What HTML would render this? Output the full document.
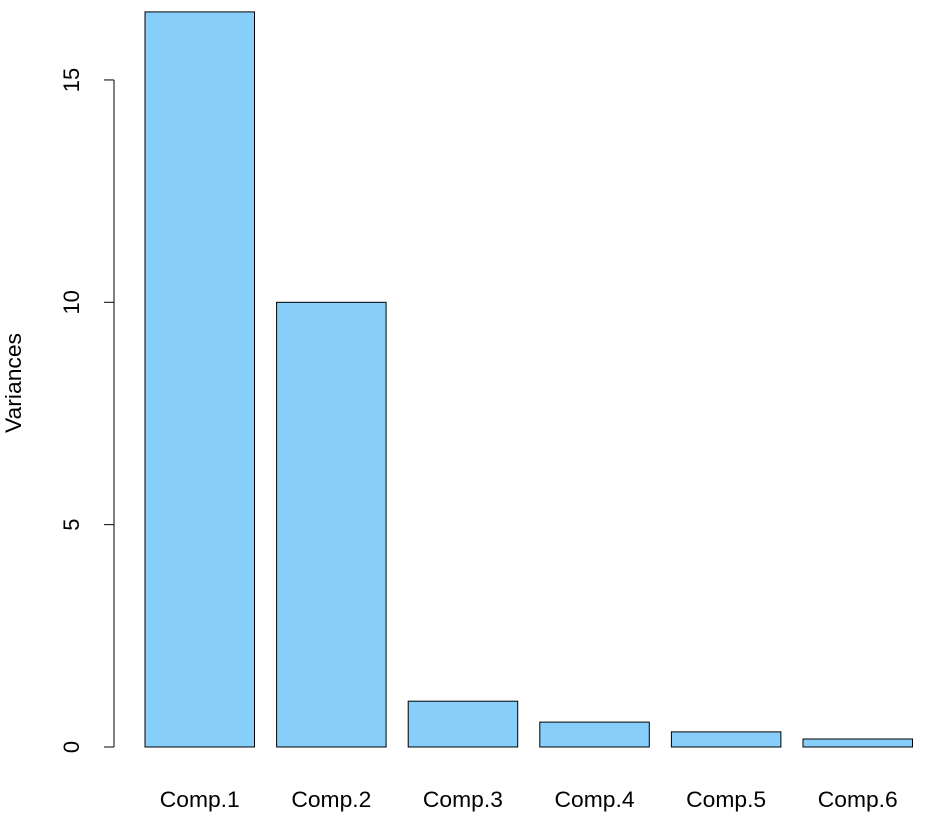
<!DOCTYPE html>
<html><head><meta charset="utf-8"><style>
html,body{margin:0;padding:0;background:#fff;}
svg{display:block;font-family:"Liberation Sans",Arial,sans-serif;}
</style></head><body>
<svg id="chart" width="940" height="818" viewBox="0 0 940 818">
<g id="yaxis"></g>
<g id="bars"></g>
<g id="xlabels"></g>
<text x="21" y="383" font-size="22" text-anchor="middle" textLength="100" lengthAdjust="spacingAndGlyphs" transform="rotate(-90 21 383)">Variances</text>
</svg>
<script>
const categories = ["Comp.1","Comp.2","Comp.3","Comp.4","Comp.5","Comp.6"];
const variances = [16.53, 10.0, 1.03, 0.56, 0.34, 0.18];
const yTicks = [0, 5, 10, 15];

const NS = "http://www.w3.org/2000/svg";
const y0 = 747, pxPerUnit = 44.47;
const yScale = v => y0 - v * pxPerUnit;
const barW = 109.5, step = 131.6, x0 = 145;
const xScale = i => x0 + i * step;

function mk(tag, attrs, parent){
  const e = document.createElementNS(NS, tag);
  for (const k in attrs) e.setAttribute(k, attrs[k]);
  parent.appendChild(e);
  return e;
}
const ya = document.getElementById("yaxis");
const axisLine = mk("line", {x1:114, x2:114, y1:yScale(yTicks[yTicks.length-1]), y2:yScale(yTicks[0]), stroke:"#000", "stroke-width":1}, ya);


yTicks.forEach(t => {
  const y = yScale(t);
  const tk = mk("line", {x1:104, x2:114, y1:y, y2:y, stroke:"#000", "stroke-width":1}, ya);
  
  
  const lb = mk("text", {x:79, y:y, "font-size":22, "text-anchor":"middle", transform:`rotate(-90 79 ${y})`}, ya);
  lb.textContent = t;
  
  
});
const bg = document.getElementById("bars");
const xg = document.getElementById("xlabels");
categories.forEach((c, i) => {
  const top = yScale(variances[i]);
  const r = mk("rect", {x:xScale(i), y:top, width:barW, height:y0 - top, fill:"#87CEFA", stroke:"#000", "stroke-width":1}, bg);
  
  
  const t = mk("text", {x:xScale(i) + barW/2, y:807, "font-size":22, "text-anchor":"middle", textLength:80, lengthAdjust:"spacingAndGlyphs"}, xg);
  t.textContent = c;
  
  
});
</script>
</body></html>
